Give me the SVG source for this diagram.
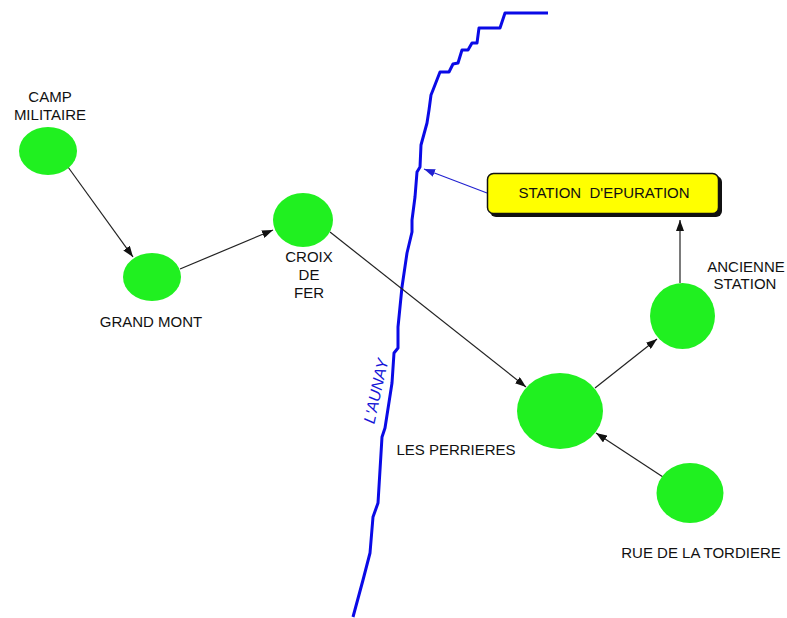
<svg xmlns="http://www.w3.org/2000/svg" width="787" height="618" viewBox="0 0 787 618">
  <style>
    .node { fill: #20F020; }
    .lbl { font-family: "Liberation Sans", Arial, sans-serif; font-size: 15px; fill: #111; text-anchor: middle; }
    .conn { stroke: #222; stroke-width: 1.2; fill: none; marker-end: url(#arr); }
    .river { stroke: #0A0AE6; stroke-width: 3; fill: none; stroke-linejoin: round; }
  </style>
  <defs>
    <marker id="arr" markerUnits="userSpaceOnUse" markerWidth="12" markerHeight="8" refX="11" refY="4" orient="auto">
      <path d="M0,0 L11,4 L0,8 Z" fill="#111"/>
    </marker>
    <marker id="arrBlue" markerUnits="userSpaceOnUse" markerWidth="12" markerHeight="8" refX="11" refY="4" orient="auto">
      <path d="M0,0 L11,4 L0,8 Z" fill="#2020D0"/>
    </marker>
  </defs>
  <rect width="787" height="618" fill="#fff"/>

  <g id="river">
    <polyline class="river" points="548,13 505,13 500,28 479,28 477,43 472,43 468,50 462,50 458,63 453,64 449,72 440,72 433,90 431,95 429,110 427,123 421,145 420,167 417,172 415,197 412,220 412,232 407,253 402,287 398,327 398,348 394,353 392,383 385,428 382,437 378,503 373,517 370,553 363,580 353,617"/>
    <text x="375.5" y="397" transform="rotate(-77.5 375.5 391)" style="font-family:'Liberation Sans',Arial,sans-serif;font-size:16px;font-style:italic;fill:#1515D8;text-anchor:middle">L'AUNAY</text>
  </g>

  <g id="connectors">
    <line class="conn" x1="68" y1="167" x2="133" y2="257"/>
    <line class="conn" x1="180" y1="269" x2="273" y2="230"/>
    <line class="conn" x1="330" y1="232" x2="526" y2="387"/>
    <line class="conn" x1="595" y1="388" x2="657" y2="339"/>
    <line class="conn" x1="663" y1="477" x2="596" y2="433"/>
    <line class="conn" x1="680" y1="283" x2="680" y2="220"/>
    <line x1="487" y1="193" x2="424" y2="169" stroke="#2020D0" stroke-width="1.2" marker-end="url(#arrBlue)"/>
  </g>

  <g id="camp-militaire">
    <ellipse class="node" cx="48" cy="151" rx="29" ry="24"/>
    <text class="lbl" x="50" y="102">CAMP</text>
    <text class="lbl" x="50" y="120">MILITAIRE</text>
  </g>

  <g id="grand-mont">
    <ellipse class="node" cx="152" cy="277" rx="29" ry="24"/>
    <text class="lbl" x="151" y="327">GRAND MONT</text>
  </g>

  <g id="croix-de-fer">
    <ellipse class="node" cx="303" cy="220" rx="30" ry="27"/>
    <text class="lbl" x="309" y="262">CROIX</text>
    <text class="lbl" x="309" y="280">DE</text>
    <text class="lbl" x="309" y="298">FER</text>
  </g>

  <g id="les-perrieres">
    <ellipse class="node" cx="560" cy="411" rx="43" ry="38"/>
    <text class="lbl" x="456" y="455">LES PERRIERES</text>
  </g>

  <g id="ancienne-station">
    <ellipse class="node" cx="682.5" cy="316" rx="32.5" ry="33"/>
    <text class="lbl" x="746" y="272">ANCIENNE</text>
    <text class="lbl" x="745" y="289">STATION</text>
  </g>

  <g id="rue-de-la-tordiere">
    <ellipse class="node" cx="690" cy="493" rx="33.5" ry="30"/>
    <text class="lbl" x="701" y="558">RUE DE LA TORDIERE</text>
  </g>

  <g id="station-epuration">
    <rect x="490" y="176" width="232" height="41" rx="6" fill="#111"/>
    <rect x="487.5" y="173.5" width="231" height="40" rx="6" fill="#FFFF00" stroke="#111" stroke-width="1.5"/>
    <text class="lbl" x="604" y="198" style="white-space:pre" xml:space="preserve">STATION  D'EPURATION</text>
  </g>
</svg>
